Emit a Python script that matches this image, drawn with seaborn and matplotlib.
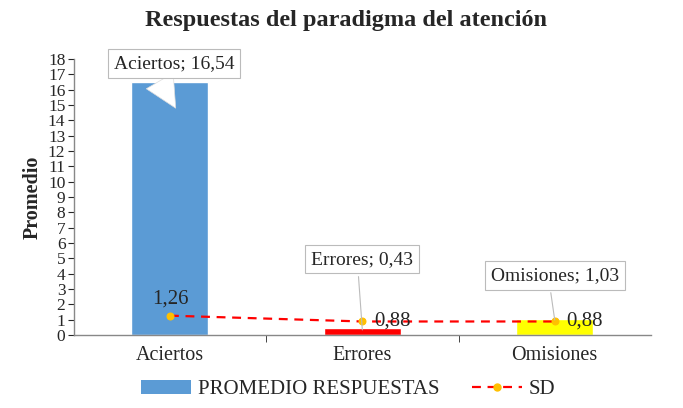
import pandas as pd
import matplotlib
matplotlib.use('Agg')
import matplotlib.pyplot as plt
import seaborn as sns
from matplotlib.patches import Patch
from matplotlib.lines import Line2D

# Data
categorias = ['Aciertos', 'Errores', 'Omisiones']
promedio = [16.54, 0.43, 1.03]
sd = [1.26, 0.88, 0.88]
colores = ['#5B9BD5', '#FF0000', '#FFFF00']

df = pd.DataFrame({'categoria': categorias, 'promedio': promedio, 'sd': sd})

sns.set_style('white')
plt.rcParams['font.family'] = ['Liberation Serif', 'DejaVu Serif']

fig = plt.figure(figsize=(6.83, 4.08), dpi=100)
ax = fig.add_axes([0.108, 0.179, 0.845, 0.676])

sns.barplot(data=df, x='categoria', y='promedio', hue='categoria',
            palette=colores, width=0.4, legend=False, ax=ax, saturation=1)

sns.lineplot(data=df, x='categoria', y='sd', color='#FF0000', linestyle=(0, (4, 3)),
             linewidth=1.6, marker='o', markersize=5, markerfacecolor='#FFC000',
             markeredgecolor='#FFC000', ax=ax)

ax.set_ylim(0, 18)
ax.set_xlim(-0.5, 2.5)
ax.set_yticks(range(0, 19))
ax.tick_params(axis='y', labelsize=12.5, length=4, direction='out', left=True, pad=2)
ax.tick_params(axis='x', labelsize=14.5, length=0, pad=8)
# ticks on x at category boundaries
ax.set_xticks([0.5, 1.5], minor=True)
ax.tick_params(axis='x', which='minor', length=5, direction='out', bottom=True)

for s in ['top', 'right']:
    ax.spines[s].set_visible(False)
for s in ['left', 'bottom']:
    ax.spines[s].set_color('#888888')
    ax.spines[s].set_linewidth(1)

ax.set_xlabel('')
ax.set_ylabel('Promedio', fontsize=14.5, fontweight='bold', labelpad=4)
fig.suptitle('Respuestas del paradigma del atención', fontsize=17.5,
             fontweight='bold', x=0.507, y=0.975)

# SD value labels
ax.text(0, sd[0] + 0.45, '1,26', ha='center', va='bottom', fontsize=15)
ax.text(1.06, sd[1] + 0.02, '0,88', ha='left', va='center', fontsize=15)
ax.text(2.06, sd[2] + 0.02, '0,88', ha='left', va='center', fontsize=15)

# callout labels for the bars
box = dict(boxstyle='square,pad=0.3', fc='white', ec='#BBBBBB', lw=0.8)
ax.annotate('Aciertos; 16,54', xy=(0.03, 14.8), xytext=(0.02, 17.7),
            ha='center', va='center', fontsize=14, bbox=box,
            arrowprops=dict(arrowstyle='wedge,tail_width=1.6', fc='white',
                            ec='#DDDDDD', lw=0.5, shrinkB=0, relpos=(0.3, 0.5)))
ax.annotate('Errores; 0,43', xy=(1.0, 0.33), xytext=(1.0, 4.95),
            ha='center', va='center', fontsize=14, bbox=box,
            arrowprops=dict(arrowstyle='-', color='#BBBBBB', lw=0.8, shrinkB=0,
                            relpos=(0.45, 0.5)))
ax.annotate('Omisiones; 1,03', xy=(2.0, 0.98), xytext=(2.0, 3.9),
            ha='center', va='center', fontsize=14, bbox=box,
            arrowprops=dict(arrowstyle='-', color='#BBBBBB', lw=0.8, shrinkB=0,
                            relpos=(0.45, 0.5)))

handles = [Patch(facecolor=colores[0], edgecolor='none'),
           Line2D([0], [0], color='#FF0000', linestyle=(0, (4, 3)), lw=1.6, marker='o',
                  markersize=5, markerfacecolor='#FFC000', markeredgecolor='#FFC000')]
fig.legend(handles, ['PROMEDIO RESPUESTAS', 'SD'], loc='lower center',
           bbox_to_anchor=(0.51, -0.025), ncol=2, frameon=False, fontsize=15,
           handlelength=2.4, columnspacing=1.6, handletextpad=0.3)

fig.savefig('out.png', dpi=100)
